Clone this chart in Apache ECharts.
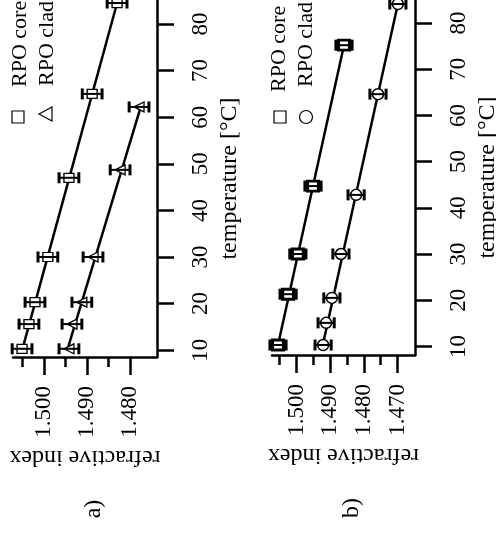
<!DOCTYPE html>
<html><head><meta charset="utf-8">
<script src="https://cdn.jsdelivr.net/npm/echarts@6/dist/echarts.min.js"></script>
<style>html,body{margin:0;padding:0;background:#fff}#c{width:496px;height:536px}</style>
</head><body><div id="c"></div>
<script>
// ---- Panel a) ----
const coreTempA  = [10.3, 15.6, 20.3, 30.0, 47.0, 65.0, 84.5];
const coreIndexA = [1.5051, 1.5035, 1.5021, 1.4991, 1.4942, 1.4888, 1.4830];
const cladTempA  = [10.3, 15.6, 20.3, 30.0, 48.7, 62.2];
const cladIndexA = [1.4942, 1.4935, 1.4912, 1.4886, 1.4823, 1.4779];
const errA = 0.0023;
const fitCoreTempA  = [10.3, 84.5];
const fitCoreIndexA = [1.5050, 1.4830];
const fitCladTempA  = [10.3, 62.2];
const fitCladIndexA = [1.4945, 1.4775];
// ---- Panel b) ----
const coreTempB  = [10.3, 21.3, 30.0, 44.7, 75.2];
const coreIndexB = [1.5055, 1.5025, 1.4996, 1.4951, 1.4859];
const cladTempB  = [10.3, 15.1, 20.5, 30.0, 42.8, 64.6, 84.1];
const cladIndexB = [1.4921, 1.4912, 1.4895, 1.4868, 1.4823, 1.4758, 1.4699];
const errB = 0.0024;
const fitCoreTempB  = [10.3, 75.2];
const fitCoreIndexB = [1.5055, 1.4859];
const fitCladTempB  = [10.3, 84.1];
const fitCladIndexB = [1.4922, 1.4699];
// ---- ticks ----
const tempTicks = [10, 20, 30, 40, 50, 60, 70, 80];
const indexMajorA = [1.500, 1.490, 1.480];
const indexMinorA = [1.505, 1.495, 1.485];
const indexMajorB = [1.500, 1.490, 1.480, 1.470];
const indexMinorB = [1.505, 1.495, 1.485, 1.475];
const legendNames = ['RPO core', 'RPO clad'];
const panelLabels = ['a)', 'b)'];

const FF = '"Liberation Serif", "Times New Roman", serif';
const K = '#000';

function pairs(idx, tmp) { return idx.map((v, i) => [v, tmp[i]]); }
function errData(idx, tmp, e) { return idx.map((v, i) => [v, tmp[i], e]); }

function xMajor(g, min, max, vals, gap) {
  return {
    type: 'value', gridIndex: g, position: 'bottom', inverse: true, min: min, max: max,
    axisLine: { show: true, onZero: false, lineStyle: { color: K, width: 2.5 } },
    axisTick: { show: true, customValues: vals, length: 18, lineStyle: { color: K, width: 2.5 } },
    axisLabel: { show: true, customValues: vals, rotate: 90, margin: 29, color: K, fontFamily: FF, fontSize: 23,
      formatter: v => Number(v).toFixed(3) },
    splitLine: { show: false },
    name: 'refractive index', nameLocation: 'middle', nameGap: gap, nameRotate: 180,
    nameTextStyle: { color: K, fontFamily: FF, fontSize: 24 }
  };
}
function xMinor(g, min, max, vals) {
  return {
    type: 'value', gridIndex: g, position: 'bottom', inverse: true, min: min, max: max,
    axisLine: { show: false, onZero: false },
    axisTick: { show: true, customValues: vals, length: 10, lineStyle: { color: K, width: 2.5 } },
    axisLabel: { show: false }, splitLine: { show: false }
  };
}
function yAx(g, min, max) {
  return {
    type: 'value', gridIndex: g, position: 'right', min: min, max: max,
    axisLine: { show: true, onZero: false, lineStyle: { color: K, width: 2.5 } },
    axisTick: { show: true, customValues: tempTicks, length: 17, lineStyle: { color: K, width: 2.5 } },
    axisLabel: { show: true, customValues: tempTicks, rotate: 90, margin: 32, color: K, fontFamily: FF, fontSize: 23 },
    splitLine: { show: false },
    name: 'temperature [°C]', nameLocation: 'middle', nameGap: 61, nameRotate: 90,
    nameTextStyle: { color: K, fontFamily: FF, fontSize: 24 }
  };
}
function errRender(capHalf) {
  return function (params, api) {
    const n = api.value(0), t = api.value(1), e = api.value(2);
    const a = api.coord([n - e, t]), b = api.coord([n + e, t]);
    return { type: 'group', children: [
      { type: 'line', shape: { x1: a[0], y1: a[1], x2: b[0], y2: b[1] }, style: { stroke: K, lineWidth: 2 } },
      { type: 'line', shape: { x1: a[0], y1: a[1] - capHalf, x2: a[0], y2: a[1] + capHalf }, style: { stroke: K, lineWidth: 3 } },
      { type: 'line', shape: { x1: b[0], y1: b[1] - capHalf, x2: b[0], y2: b[1] + capHalf }, style: { stroke: K, lineWidth: 3 } }
    ] };
  };
}
function fitLine(xi, yi, idx, tmp) {
  return { type: 'line', xAxisIndex: xi, yAxisIndex: yi, data: pairs(idx, tmp), showSymbol: false, symbol: 'none',
    lineStyle: { color: K, width: 2.5 }, z: 2, clip: false, animation: false };
}
function scat(xi, yi, idx, tmp, sym, size, bw, rot) {
  return { type: 'scatter', xAxisIndex: xi, yAxisIndex: yi, data: pairs(idx, tmp), symbol: sym, symbolSize: size,
    symbolRotate: rot || 0, itemStyle: { color: '#fff', borderColor: K, borderWidth: bw, opacity: 1 }, z: 3, clip: false, animation: false };
}
function errSeries(xi, yi, idx, tmp, e) {
  return { type: 'custom', xAxisIndex: xi, yAxisIndex: yi, data: errData(idx, tmp, e), encode: { x: 0, y: 1 },
    renderItem: errRender(5.5), z: 4, clip: false, animation: false };
}
function vtext(x, y, s, size, align) {
  return { type: 'text', x: x, y: y, rotation: Math.PI / 2,
    style: { text: s, fill: K, font: size + 'px ' + FF, textAlign: align || 'left', textVerticalAlign: 'middle' } };
}

const chart = echarts.init(document.getElementById('c'), null, { renderer: 'canvas' });
chart.setOption({
  backgroundColor: '#fff',
  animation: false,
  grid: [
    { left: 13, right: 339, top: 0, bottom: 179, containLabel: false, outerBoundsMode: 'none' },
    { left: 272, right: 81, top: 0, bottom: 181, containLabel: false, outerBoundsMode: 'none' }
  ],
  xAxis: [
    xMajor(0, 1.47372, 1.50721, indexMajorA, 82),
    xMinor(0, 1.47372, 1.50721, indexMinorA),
    xMajor(1, 1.46481, 1.50728, indexMajorB, 88),
    xMinor(1, 1.46481, 1.50728, indexMinorB)
  ],
  yAxis: [ yAx(0, 8.54, 85.15), yAx(1, 8.14, 84.98) ],
  series: [
    fitLine(0, 0, fitCoreIndexA, fitCoreTempA),
    fitLine(0, 0, fitCladIndexA, fitCladTempA),
    scat(0, 0, coreIndexA, coreTempA, 'rect', [10, 9], 1.3),
    scat(0, 0, cladIndexA, cladTempA, 'triangle', 10, 1.3, 90),
    errSeries(0, 0, coreIndexA, coreTempA, errA),
    errSeries(0, 0, cladIndexA, cladTempA, errA),
    fitLine(2, 1, fitCoreIndexB, fitCoreTempB),
    fitLine(2, 1, fitCladIndexB, fitCladTempB),
    scat(2, 1, coreIndexB, coreTempB, 'rect', [11, 10], 3),
    scat(2, 1, cladIndexB, cladTempB, 'circle', 11, 1.5),
    errSeries(2, 1, coreIndexB, coreTempB, errB),
    errSeries(2, 1, cladIndexB, cladTempB, errB)
  ],
  graphic: [
    { type: 'rect', x: 18, y: 117, shape: { x: -6, y: -6, width: 12, height: 12 }, style: { fill: 'none', stroke: K, lineWidth: 1.2 } },
    vtext(20, 87, legendNames[0], 22),
    { type: 'polygon', x: 46, y: 114, shape: { points: [[-7, 0], [6, -7], [6, 7]] }, style: { fill: 'none', stroke: K, lineWidth: 1.2 } },
    vtext(47, 86, legendNames[1], 22),
    { type: 'rect', x: 280, y: 117, shape: { x: -6, y: -6, width: 12, height: 12 }, style: { fill: 'none', stroke: K, lineWidth: 1.2 } },
    vtext(279, 92, legendNames[0], 22),
    { type: 'circle', x: 306, y: 117, shape: { cx: 0, cy: 0, r: 6.5 }, style: { fill: 'none', stroke: K, lineWidth: 1.2 } },
    vtext(306, 87, legendNames[1], 22),
    vtext(94, 509, panelLabels[0], 24, 'center'),
    vtext(352, 508, panelLabels[1], 24, 'center')
  ]
});
</script>
</body></html>
